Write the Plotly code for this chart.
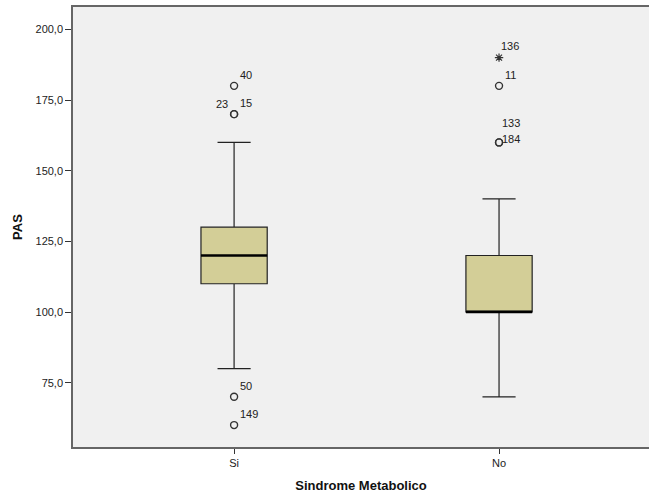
import plotly.graph_objects as go

categories = ["Si", "No"]
q1 = [110, 100]
median = [120, 100]
q3 = [130, 120]
lower_whisker = [80, 70]
upper_whisker = [160, 140]

# outliers: group index, value, case label, label placement
out_group = [0, 0, 0, 0, 0, 1, 1, 1, 1]
out_value = [180, 170, 170, 70, 60, 180, 160, 160, 190]
out_label = ["40", "23", "15", "50", "149", "11", "133", "184", "136"]
out_side = ["ur", "ul", "ur", "ur", "ur", "ur", "ur2", "r", "u"]
out_extreme = [False, False, False, False, False, False, False, False, True]

y_ticks = [75, 100, 125, 150, 175, 200]

BOX_W = 0.25
FILL = "#D3CE97"
DARK = "#222222"
FONT = "Liberation Sans, Arial, sans-serif"

fig = go.Figure()
for i, c in enumerate(categories):
    fig.add_trace(go.Box(
        x=[i], q1=[q1[i]], median=[median[i]], q3=[q3[i]],
        lowerfence=[lower_whisker[i]], upperfence=[upper_whisker[i]],
        width=BOX_W, whiskerwidth=0.5, fillcolor=FILL,
        line=dict(color=DARK, width=1.2), boxpoints=False,
        showlegend=False, hoverinfo="skip"))
    # thicker median line
    fig.add_trace(go.Scatter(
        x=[i - BOX_W / 2, i + BOX_W / 2], y=[median[i], median[i]],
        mode="lines", line=dict(color="#000000", width=2.6),
        showlegend=False, hoverinfo="skip"))

circ_x = [g for g, e in zip(out_group, out_extreme) if not e]
circ_y = [v for v, e in zip(out_value, out_extreme) if not e]
fig.add_trace(go.Scatter(
    x=circ_x, y=circ_y, mode="markers",
    marker=dict(symbol="circle-open", size=7, color="#333333", line=dict(width=1.4)),
    showlegend=False, hoverinfo="skip"))
star_x = [g for g, e in zip(out_group, out_extreme) if e]
star_y = [v for v, e in zip(out_value, out_extreme) if e]
fig.add_trace(go.Scatter(
    x=star_x, y=star_y, mode="markers",
    marker=dict(symbol="asterisk-open", size=7, color="#333333", line=dict(width=1.2)),
    showlegend=False, hoverinfo="skip"))

for g, v, lab, side in zip(out_group, out_value, out_label, out_side):
    if side == "ur":
        xa, xs, ys = "left", 4, 11
    elif side == "ul":
        xa, xs, ys = "right", -4, 10
    elif side == "ur2":
        xa, xs, ys = "left", 1, 19
    elif side == "u":
        xa, xs, ys = "left", 0, 12
    else:
        xa, xs, ys = "left", 1, 3
    fig.add_annotation(x=g, y=v, text=lab, showarrow=False, xanchor=xa,
                       xshift=xs, yshift=ys,
                       font=dict(family=FONT, size=11, color="#222222"))

fig.update_layout(
    width=649, height=500,
    margin=dict(l=73, r=0, t=7, b=53),
    paper_bgcolor="white", plot_bgcolor="#F0F0F0",
    separators=",.",
    font=dict(family=FONT, size=11, color="#222222"),
)
fig.update_xaxes(
    range=[-0.608, 1.566], tickvals=[0, 1], ticktext=categories,
    showgrid=False, zeroline=False, showline=True, linecolor="#666666",
    linewidth=1.5, mirror=True, ticks="outside", ticklen=5, tickcolor="#333333",
    tickfont=dict(size=11, color="#222222"),
    title=dict(text="<b>Sindrome Metabolico</b>", font=dict(size=13, color="#111111"),
               standoff=13))
fig.update_yaxes(
    range=[52.25, 207.9], tickvals=y_ticks, tickformat=".1f",
    showgrid=False, zeroline=False, showline=True, linecolor="#666666",
    linewidth=1.5, mirror=False, ticks="outside", ticklen=6, tickcolor="#333333",
    tickfont=dict(size=11, color="#222222"),
    title=dict(text="<b>PAS</b>", font=dict(size=13, color="#111111"), standoff=10))

fig.write_html(
    "out.html",
    config={"displayModeBar": False},
    post_script=("document.body.style.margin='0';"
                 "document.body.style.overflow='hidden';"
                 "document.documentElement.style.overflow='hidden';"))
